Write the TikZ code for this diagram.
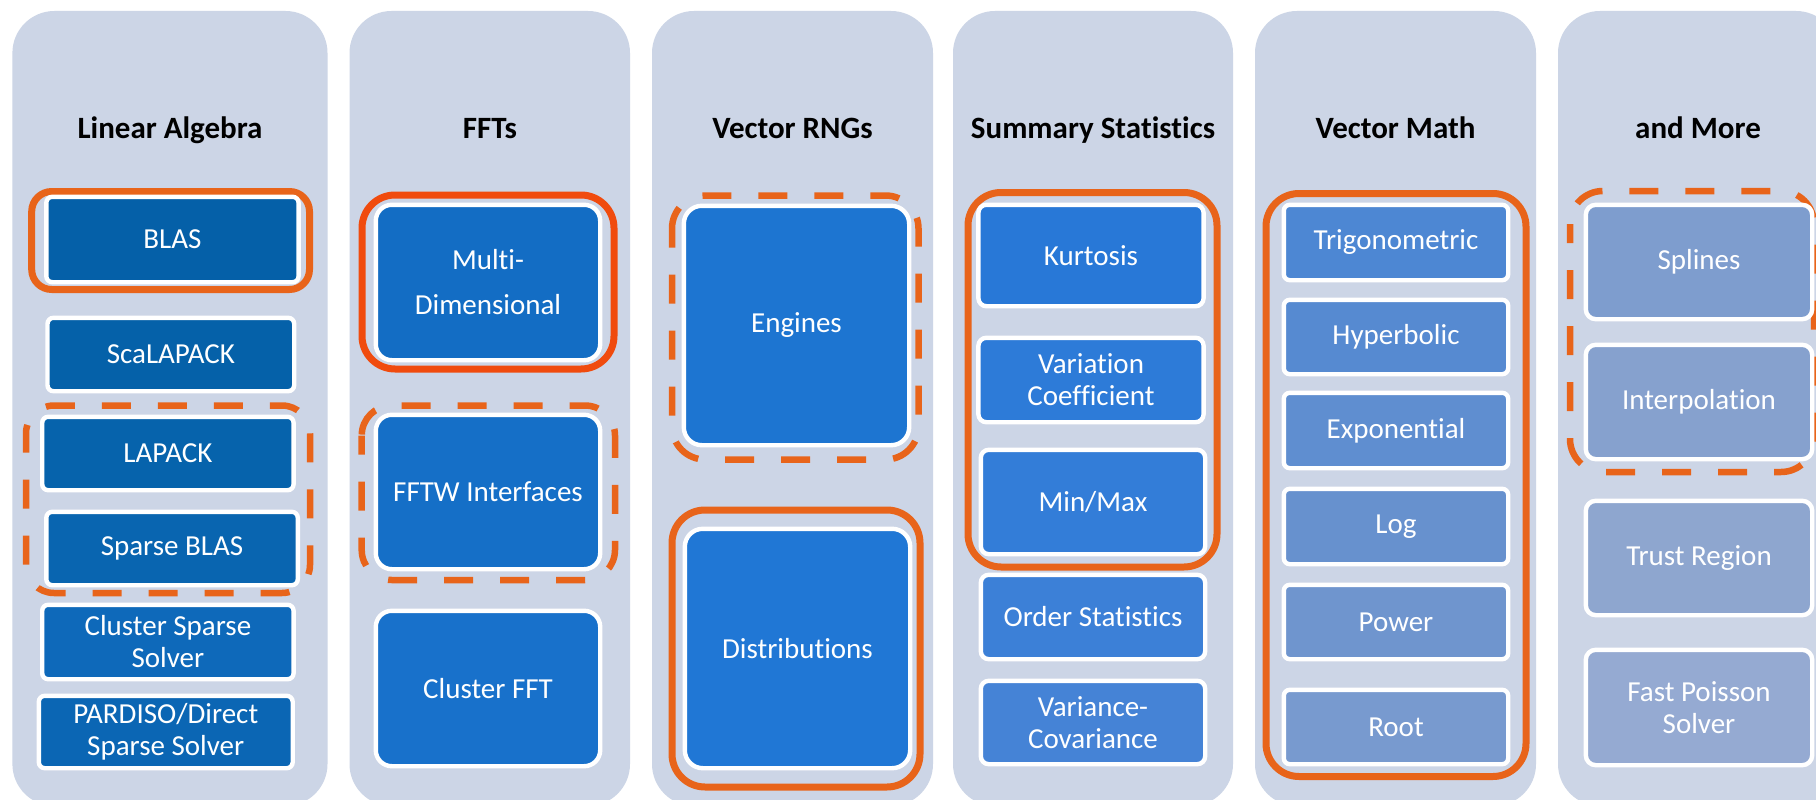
\documentclass[tikz,border=0pt]{standalone}
\usepackage{fontspec}
\setmainfont[Ligatures=NoCommon]{Carlito}
\definecolor{colbg}{HTML}{CCD5E6}
\definecolor{orA}{HTML}{E8641A}
\definecolor{orB}{HTML}{F04B0E}
\newcommand\mybox[8]{%
  \definecolor{c#1}{HTML}{#6}%
  \pgfmathsetmacro\bxcx{(#2+#4)/2}\pgfmathsetmacro\bxcy{(#3+#5)/2}%
  \pgfmathsetmacro\bxw{#4-#2+4.4}\pgfmathsetmacro\bxh{#5-#3+4.4}%
  \node[bx, fill=c#1, rounded corners=#7, minimum width=\bxw pt, minimum height=\bxh pt] (#1) at (\bxcx,\bxcy) {#8};}
\begin{document}
\begin{tikzpicture}[x=1pt,y=-1pt,
  colm/.style={fill=colbg, rounded corners=42pt},
  hdr/.style={font=\fontsize{31}{36}\selectfont\bfseries, text=black, anchor=base},
  bx/.style={draw=white, line width=4.4pt, inner sep=0pt, text=white, font=\fontsize{29}{32}\selectfont, align=center},
  frm/.style={draw=orA, line width=7pt},
  dfrm/.style={draw=orA, line width=6.5pt, dash pattern=on 29pt off 27pt},
]
\useasboundingbox (0,0) rectangle (1816,800);
\clip (0,0) rectangle (1816,800);
\fill[white] (0,0) rectangle (1816,800);
% columns
\fill[colm] (12.4,11) rectangle (327.5,806);
\fill[colm] (349.5,11) rectangle (630,806);
\fill[colm] (652,11) rectangle (933,806);
\fill[colm] (953,11) rectangle (1233,806);
\fill[colm] (1255,11) rectangle (1536,806);
\fill[colm] (1558,11) rectangle (1838,806);
% headers
\node[hdr] (h1) at (170,138) {Linear Algebra};
\node[hdr] (h2) at (490,138) {FFTs};
\node[hdr] (h3) at (792.5,138) {Vector RNGs};
\node[hdr] (h4) at (1093,138) {Summary Statistics};
\node[hdr] (h5) at (1395.5,138) {Vector Math};
\node[hdr] (h6) at (1698,138) {and More};
% orange frames
\draw[frm, rounded corners=20pt] (31.7,191.5) rectangle (309.5,289.5);
\draw[dfrm, rounded corners=28pt, dash phase=10pt] (26,405.5) rectangle (310,593);
\draw[frm, draw=orB, rounded corners=33pt] (362,195) rectangle (614,369);
\draw[dfrm, rounded corners=30pt, dash phase=10pt] (361.7,405.5) rectangle (615,580);
\draw[dfrm, rounded corners=33pt, dash phase=10pt] (672,195.5) rectangle (918.5,459.5);
\draw[frm, rounded corners=33pt] (672,510) rectangle (920,787);
\draw[frm, rounded corners=33pt] (968,192.5) rectangle (1217,567);
\draw[frm, rounded corners=33pt] (1266,193.5) rectangle (1526,776.5);
\draw[dfrm, rounded corners=33pt, dash phase=10pt] (1570,191) rectangle (1814,472);
% Linear Algebra
\mybox{la1}{48.5}{199}{296.4}{280}{0560A8}{6pt}{BLAS}
\mybox{la2}{49.7}{320}{292}{389}{0561A9}{6pt}{ScaLAPACK}
\mybox{la3}{44.4}{419}{291.4}{488}{0663AC}{6pt}{LAPACK}
\mybox{la4}{48.5}{514}{295.6}{583}{0965B0}{6pt}{Sparse BLAS}
\mybox{la5}{44.4}{607}{291.4}{677}{0E69BA}{6pt}{Cluster Sparse\\Solver}
\mybox{la6}{41}{698}{290.5}{766}{0B66B4}{6pt}{PARDISO/Direct\\Sparse Solver}
% FFTs
\mybox{ff1}{378}{207}{598}{358}{136DC4}{16pt}{Multi-\\[13pt]Dimensional}
\mybox{ff2}{378}{417}{598}{567}{156FC7}{16pt}{FFTW Interfaces}
\mybox{ff3}{378}{613}{598}{764}{1871CB}{16pt}{Cluster FFT}
% Vector RNGs
\mybox{rn1}{686}{208}{907}{443}{1D75D1}{18pt}{Engines}
\mybox{rn2}{687}{531}{908}{766}{2077D5}{18pt}{Distributions}
% Summary Statistics
\mybox{ss1}{980.6}{207}{1201.4}{304}{2878D7}{8pt}{Kurtosis}
\mybox{ss2}{980.6}{340}{1201.4}{420}{2D7BD8}{8pt}{Variation\\Coefficient}
\mybox{ss3}{983}{452}{1203}{552}{337DD8}{8pt}{Min/Max}
\mybox{ss4}{983}{577}{1203}{657}{3C80D7}{8pt}{Order Statistics}
\mybox{ss5}{983}{683}{1203}{762}{4583D6}{8pt}{Variance-\\Covariance}
% Vector Math
\mybox{vm1}{1286}{207}{1506}{278}{4D87D3}{6pt}{Trigonometric}
\mybox{vm2}{1286}{302}{1506}{372}{568AD1}{6pt}{Hyperbolic}
\mybox{vm3}{1286}{395}{1506}{466}{5F8ED0}{6pt}{Exponential}
\mybox{vm4}{1286}{491}{1506}{562}{6791CE}{6pt}{Log}
\mybox{vm5}{1286}{587}{1506}{657}{6F95CE}{6pt}{Power}
\mybox{vm6}{1286}{692}{1506}{762}{789ACF}{6pt}{Root}
% and More
\mybox{mo1}{1588}{207}{1810}{317}{7E9DCE}{10pt}{Splines}
\mybox{mo2}{1588}{347}{1810}{457}{86A1CE}{10pt}{Interpolation}
\mybox{mo3}{1588}{503}{1810}{613}{8EA6CF}{10pt}{Trust Region}
\mybox{mo4}{1588}{652}{1810}{763}{95AAD2}{10pt}{Fast Poisson\\Solver}
\end{tikzpicture}
\end{document}
